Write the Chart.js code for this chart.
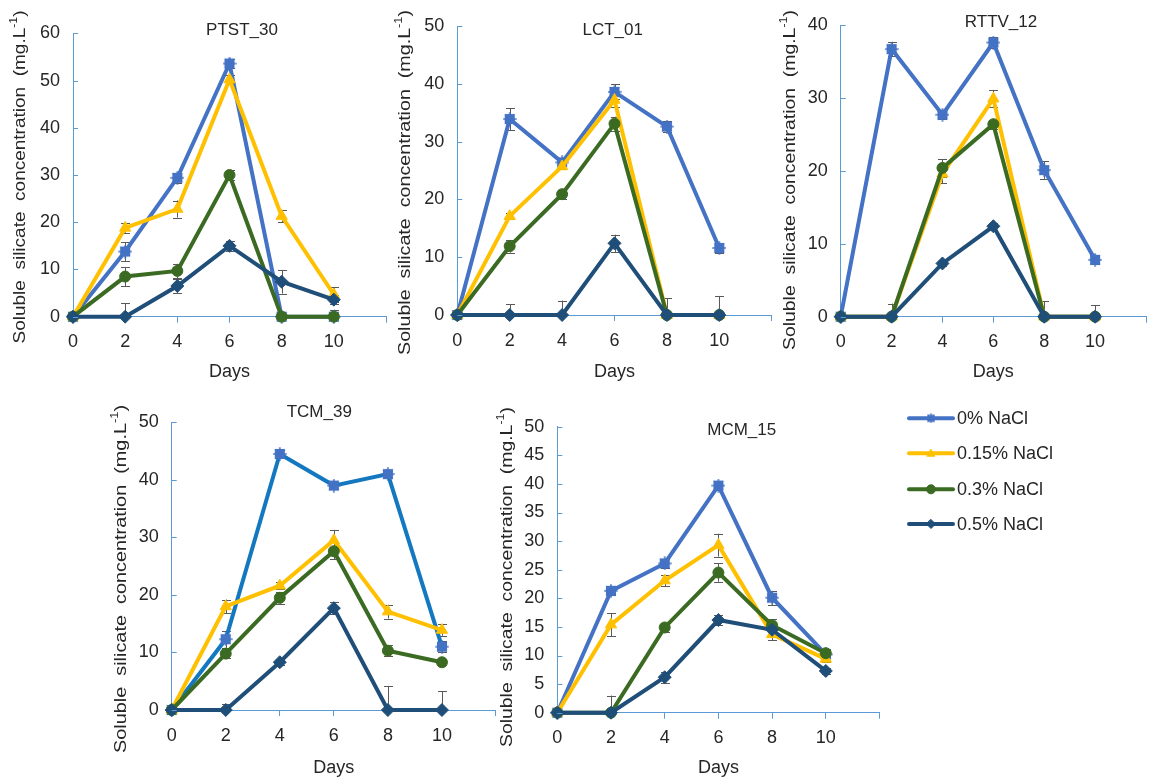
<!DOCTYPE html>
<html><head><meta charset="utf-8">
<script src="https://cdn.jsdelivr.net/npm/chart.js@4.4.1/dist/chart.umd.min.js"></script>
<style>
html,body{margin:0;padding:0;background:#fff;}
#wrap{position:relative;width:1155px;height:778px;overflow:hidden;background:#fff;}
#wrap canvas{position:absolute;left:0;top:0;}
</style></head><body>
<div id="wrap">
<canvas id="c0" width="1155" height="778"></canvas>
<canvas id="c1" width="1155" height="778"></canvas>
<canvas id="c2" width="1155" height="778"></canvas>
<canvas id="c3" width="1155" height="778"></canvas>
<canvas id="c4" width="1155" height="778"></canvas>
</div>
<script>
// ---------------- DATA ----------------
const days = [0, 2, 4, 6, 8, 10];
const seriesLabels = ['0% NaCl', '0.15% NaCl', '0.3% NaCl', '0.5% NaCl'];
const panelTitles = ['PTST_30', 'LCT_01', 'RTTV_12', 'TCM_39', 'MCM_15'];
const yAxisMax = [60, 50, 40, 50, 50];
const yAxisStep = [10, 10, 10, 10, 5];
const xAxisMax = 12;
const xAxisStep = 2;
const xTickLabels = ['0', '2', '4', '6', '8', '10', ''];
const yTitleText = 'Soluble  silicate  concentration  (mg.L';
const yTitleSup = '-1';
const xTitleText = 'Days';

// PTST_30
const ptst_0   = [0, 13.8, 29.4, 53.6, 0, 0];
const ptst_015 = [0, 18.8, 22.8, 50.2, 21.3, 4.7];
const ptst_03  = [0, 8.5, 9.7, 30.0, 0, 0];
const ptst_05  = [0, 0, 6.5, 15.0, 7.4, 3.6];
const ptst_0_err   = [0, 2.0, 1.0, 1.0, 0.5, 0.5];
const ptst_015_err = [0, 1.0, 1.8, 1.0, 1.3, 1.6];
const ptst_03_err  = [0, 2.0, 1.5, 1.0, 0, 1.5];
const ptst_05_err  = [0, 2.8, 1.5, 1.0, 2.5, 1.0];
// LCT_01
const lct_0   = [0, 33.9, 26.4, 38.6, 32.6, 11.6];
const lct_015 = [0, 17.1, 25.7, 37.2, 0, 0];
const lct_03  = [0, 11.9, 20.9, 33.1, 0, 0];
const lct_05  = [0, 0, 0, 12.4, 0, 0];
const lct_0_err   = [0, 1.9, 0.8, 1.3, 1.0, 0.8];
const lct_015_err = [0, 0.5, 0.5, 1.2, 0, 0];
const lct_03_err  = [0, 1.1, 0.8, 1.2, 0, 0];
const lct_05_err  = [0, 1.9, 2.5, 1.5, 2.9, 3.3];
// RTTV_12
const rttv_0   = [0, 36.7, 27.7, 37.6, 20.1, 7.8];
const rttv_015 = [0, 0, 19.6, 29.9, 0, 0];
const rttv_03  = [0, 0, 20.4, 26.4, 0, 0];
const rttv_05  = [0, 0, 7.3, 12.4, 0, 0];
const rttv_0_err   = [0, 1.0, 0.6, 0.8, 1.2, 0.6];
const rttv_015_err = [0, 0, 1.3, 1.2, 0, 0];
const rttv_03_err  = [0, 0, 1.2, 0.6, 0, 0];
const rttv_05_err  = [0, 1.8, 0.4, 0.5, 2.1, 1.6];
// TCM_39
const tcm_0   = [0, 12.3, 44.5, 39.0, 41.0, 11.0];
const tcm_015 = [0, 18.0, 21.6, 29.5, 17.1, 13.9];
const tcm_03  = [0, 9.8, 19.5, 27.6, 10.3, 8.3];
const tcm_05  = [0, 0, 8.3, 17.7, 0, 0];
const tcm_0_err   = [0, 1.5, 0.6, 0.6, 0.6, 1.0];
const tcm_015_err = [0, 1.2, 0.6, 1.8, 1.2, 1.0];
const tcm_03_err  = [0, 0.8, 1.0, 1.4, 1.0, 0.5];
const tcm_05_err  = [0, 1.0, 0.5, 1.0, 4.2, 3.3];
// MCM_15
const mcm_0   = [0, 21.3, 26.1, 39.7, 20.1, 10.2];
const mcm_015 = [0, 15.4, 23.1, 29.3, 13.7, 9.4];
const mcm_03  = [0, 0, 14.9, 24.5, 15.3, 10.4];
const mcm_05  = [0, 0, 6.2, 16.2, 14.5, 7.3];
const mcm_0_err   = [0, 0.8, 0.8, 0.8, 1.2, 0.5];
const mcm_015_err = [0, 2.0, 1.0, 2.0, 1.0, 0.5];
const mcm_03_err  = [0, 0, 0.8, 1.6, 1.0, 0.8];
const mcm_05_err  = [0, 3.0, 1.0, 0.8, 1.0, 0.5];

const panelSeries = [
  [ptst_0, ptst_015, ptst_03, ptst_05],
  [lct_0, lct_015, lct_03, lct_05],
  [rttv_0, rttv_015, rttv_03, rttv_05],
  [tcm_0, tcm_015, tcm_03, tcm_05],
  [mcm_0, mcm_015, mcm_03, mcm_05]
];
const panelErrors = [
  [ptst_0_err, ptst_015_err, ptst_03_err, ptst_05_err],
  [lct_0_err, lct_015_err, lct_03_err, lct_05_err],
  [rttv_0_err, rttv_015_err, rttv_03_err, rttv_05_err],
  [tcm_0_err, tcm_015_err, tcm_03_err, tcm_05_err],
  [mcm_0_err, mcm_015_err, mcm_03_err, mcm_05_err]
];

// ---------------- STYLE / LAYOUT ----------------
const FONT = '"Liberation Sans", Arial, Helvetica, sans-serif';
const TEXT = '#262626';
const AXIS = '#5B9BD5';
const ERR = '#595959';
const seriesColors = ['#4472C4', '#FFC000', '#3B6B22', '#1F4E79'];
const panelLineOverride = [null, null, null, '#1478C0', null];
const boxes = [
  {L:73,    T:33.3,  R:386,   B:316.7, tx:242,   ty:30,    yx:20,  yy:177,   yl:333, dy:372},
  {L:457.3, T:26,    R:771.7, B:315,   tx:612.7, ty:30.7,  yx:405, yy:182.5, yl:345, dy:372},
  {L:840.7, T:25,    R:1155,  B:316.7, tx:1001,  ty:22.7,  yx:790, yy:180,   yl:340, dy:372},
  {L:171.7, T:422.3, R:496,   B:710,   tx:319.3, ty:412.7, yx:121, yy:579,   yl:348, dy:768},
  {L:557.3, T:426.7, R:879.5, B:712.7, tx:741.7, ty:430.7, yx:507, yy:577,   yl:340, dy:768}
];
const YW = 50, XH = 40, W = 1155, H = 778;

function makeStar(color, size) {
  const c = document.createElement('canvas');
  c.width = size; c.height = size;
  const g = c.getContext('2d');
  const m = size / 2, s = size * 0.72;
  g.fillStyle = color;
  g.fillRect(m - s / 2, m - s / 2, s, s);
  g.strokeStyle = color; g.lineWidth = Math.max(1.2, size / 9);
  for (let k = 0; k < 8; k++) {
    const a = k * Math.PI / 4;
    g.beginPath(); g.moveTo(m, m);
    g.lineTo(m + Math.cos(a) * (m - 0.3), m + Math.sin(a) * (m - 0.3)); g.stroke();
  }
  return c;
}
const starBig = makeStar(seriesColors[0], 14);
const starSmall = makeStar(seriesColors[0], 10);
const pointStyles = [starBig, 'triangle', 'circle', 'rectRot'];
const pointRadii = [6, 6.5, 5.5, 6.5];

function drawMarker(ctx, idx, x, y, r) {
  const col = seriesColors[idx];
  ctx.save();
  ctx.fillStyle = col; ctx.strokeStyle = col; ctx.lineWidth = 1;
  ctx.beginPath();
  if (idx === 0) { ctx.drawImage(starSmall, x - 5, y - 5); ctx.restore(); return; }
  if (idx === 1) {
    for (let k = 0; k < 3; k++) {
      const a = -Math.PI / 2 + k * 2 * Math.PI / 3;
      const px = x + Math.cos(a) * r, py = y + Math.sin(a) * r + r * 0.15;
      k ? ctx.lineTo(px, py) : ctx.moveTo(px, py);
    }
  } else if (idx === 2) {
    ctx.arc(x, y, r, 0, Math.PI * 2);
  } else {
    ctx.moveTo(x, y - r); ctx.lineTo(x + r, y); ctx.lineTo(x, y + r); ctx.lineTo(x - r, y);
  }
  ctx.closePath(); ctx.fill(); ctx.stroke();
  ctx.restore();
}

const errorBarPlugin = {
  id: 'errorBars',
  beforeDatasetsDraw(chart) {
    const ctx = chart.ctx, ys = chart.scales.y;
    ctx.save();
    ctx.strokeStyle = ERR; ctx.lineWidth = 1;
    chart.data.datasets.forEach((ds, i) => {
      if (!ds.errorBars) return;
      const meta = chart.getDatasetMeta(i);
      meta.data.forEach((pt, j) => {
        const e = ds.errorBars[j];
        if (!e) return;
        const v = ds.data[j].y;
        const x = Math.round(pt.x) + 0.5;
        const top = ys.getPixelForValue(v + e);
        const lowV = v - e;
        const bot = ys.getPixelForValue(Math.max(lowV, 0));
        ctx.beginPath(); ctx.moveTo(x, top); ctx.lineTo(x, bot);
        ctx.moveTo(x - 4.5, Math.round(top) + 0.5); ctx.lineTo(x + 4.5, Math.round(top) + 0.5);
        if (lowV > 0) { ctx.moveTo(x - 4.5, Math.round(bot) + 0.5); ctx.lineTo(x + 4.5, Math.round(bot) + 0.5); }
        ctx.stroke();
      });
    });
    ctx.restore();
  }
};

const decorPlugin = {
  id: 'panelDecor',
  afterDraw(chart, args, o) {
    const ctx = chart.ctx, ca = chart.chartArea, ys = chart.scales.y;
    ctx.save();
    // inward y tick marks
    ctx.strokeStyle = AXIS; ctx.lineWidth = 1;
    ys.ticks.forEach(t => {
      const y = Math.round(ys.getPixelForValue(t.value)) + 0.5;
      ctx.beginPath(); ctx.moveTo(ca.left, y); ctx.lineTo(ca.left + 5, y); ctx.stroke();
    });
    ctx.fillStyle = TEXT;
    ctx.textAlign = 'center'; ctx.textBaseline = 'middle';
    // panel title
    ctx.font = '17px ' + FONT;
    ctx.fillText(o.title, o.tx, o.ty);
    // x title
    ctx.font = '18px ' + FONT;
    ctx.fillText(xTitleText, (ca.left + ca.right) / 2, o.dy);
    // y title (rotated, with superscript)
    ctx.translate(o.yx, o.yy);
    ctx.rotate(-Math.PI / 2);
    ctx.font = '17px ' + FONT;
    const w1 = ctx.measureText(yTitleText).width;
    const w3 = ctx.measureText(')').width;
    ctx.font = '11px ' + FONT;
    const w2 = ctx.measureText(yTitleSup).width;
    const total = w1 + w2 + w3;
    ctx.scale(o.yl / total, 1);
    ctx.textAlign = 'left';
    let x = -total / 2;
    ctx.font = '17px ' + FONT;
    ctx.fillText(yTitleText, x, 0); x += w1;
    ctx.font = '11px ' + FONT;
    ctx.fillText(yTitleSup, x, -6); x += w2;
    ctx.font = '17px ' + FONT;
    ctx.fillText(')', x, 0);
    ctx.restore();
    // legend
    if (o.legend) {
      const rows = [418.3, 453.3, 489.3, 524];
      ctx.save();
      ctx.font = '18px ' + FONT; ctx.fillStyle = TEXT;
      ctx.textAlign = 'left'; ctx.textBaseline = 'middle';
      chart.data.datasets.slice().sort((a, b) => a.seriesIndex - b.seriesIndex).forEach(ds => {
        const k = ds.seriesIndex, y = rows[k];
        ctx.strokeStyle = seriesColors[k]; ctx.lineWidth = 4; ctx.lineCap = 'round';
        ctx.beginPath(); ctx.moveTo(909, y); ctx.lineTo(953, y); ctx.stroke();
        drawMarker(ctx, k, 931, y, 4.5);
        ctx.fillText(ds.label, 957, y + 1);
      });
      ctx.restore();
    }
  }
};

for (let p = 0; p < 5; p++) {
  const b = boxes[p];
  const datasets = panelSeries[p].map((vals, k) => ({
    label: seriesLabels[k],
    seriesIndex: k,
    data: days.map((d, i) => ({x: d, y: vals[i]})),
    errorBars: panelErrors[p][k],
    borderColor: (k === 0 && panelLineOverride[p]) ? panelLineOverride[p] : seriesColors[k],
    backgroundColor: seriesColors[k],
    pointBackgroundColor: seriesColors[k],
    pointBorderColor: seriesColors[k],
    pointStyle: pointStyles[k],
    pointRadius: pointRadii[k],
    pointHoverRadius: pointRadii[k],
    pointBorderWidth: 1,
    borderWidth: 4,
    tension: 0,
    fill: false,
    clip: false,
    order: 4 - k
  }));
  new Chart(document.getElementById('c' + p), {
    type: 'line',
    data: {datasets},
    options: {
      responsive: false,
      animation: false,
      devicePixelRatio: 1,
      events: [],
      layout: {padding: {left: b.L - YW, top: b.T, right: W - b.R, bottom: H - b.B - XH}},
      plugins: {
        legend: {display: false},
        tooltip: {enabled: false},
        title: {display: false},
        panelDecor: {title: panelTitles[p], tx: b.tx, ty: b.ty, yx: b.yx, yy: b.yy, yl: b.yl, dy: b.dy, legend: p === 4}
      },
      scales: {
        x: {
          type: 'linear', min: 0, max: xAxisMax,
          afterFit: s => { s.height = XH; },
          grid: {display: true, drawOnChartArea: false, drawTicks: true, tickLength: 6, color: AXIS, lineWidth: 1},
          border: {display: true, color: AXIS, width: 1},
          ticks: {stepSize: xAxisStep, autoSkip: false, maxRotation: 0, padding: 9, color: TEXT,
                  font: {family: FONT, size: 18},
                  callback: (v) => xTickLabels[Math.round(v / xAxisStep)] ?? ''}
        },
        y: {
          type: 'linear', min: 0, max: yAxisMax[p],
          afterFit: s => { s.width = YW; },
          grid: {display: true, drawOnChartArea: false, drawTicks: false, color: AXIS},
          border: {display: true, color: AXIS, width: 1},
          ticks: {stepSize: yAxisStep[p], padding: 13, color: TEXT, font: {family: FONT, size: 18}}
        }
      }
    },
    plugins: [errorBarPlugin, decorPlugin]
  });
}
</script>
</body></html>
